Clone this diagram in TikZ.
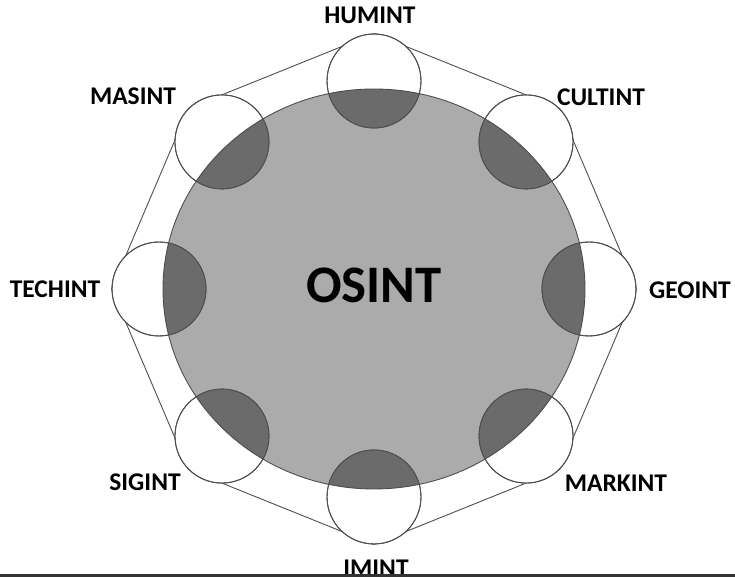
\documentclass[tikz,border=0pt]{standalone}
\usepackage{fontspec}
\setmainfont{Carlito}
\usepackage{xcolor}
\usepackage{tikz}
\usetikzlibrary{calc}
\definecolor{osintgray}{gray}{0.67}
\definecolor{lensgray}{gray}{0.42}
\definecolor{edgegray}{gray}{0.3}
\pgfdeclarelayer{back}
\pgfsetlayers{back,main}
\tikzset{
  spot/.style = {circle, draw=edgegray, fill=white, line width=0.5pt,
    inner sep=0pt, minimum size=1.88cm},% petit cercle
  belt/.style = {draw=edgegray, line width=0.5pt},% octogone
  edge/.style = {draw=edgegray, line width=0.5pt},
  lab/.style = {inner sep=0pt, font=\fontsize{14.5}{16}\selectfont\bfseries},
  bigtext/.style = {inner sep=0pt, font=\fontsize{30}{32}\selectfont\bfseries}
}

\begin{document}
\begin{tikzpicture}[x=0.02cm, y=0.02cm]
\useasboundingbox (0,0) rectangle (735,577);
\coordinate (c) at (374,288);
\foreach \n/\a in {hum/90, cul/45, geo/0, mar/-45, imi/-90, sig/-135, tec/180, mas/135}
  \node [spot] (\n) at ($(c)+(\a:215 and 208)$) {};
\begin{pgfonlayer}{back}
\draw [belt] (hum.90) -- (cul.45) -- (geo.0) -- (mar.-45) -- (imi.-90)
  -- (sig.-135) -- (tec.180) -- (mas.135) -- cycle;
\fill [osintgray] (c) ellipse [x radius=211, y radius=200];
\end{pgfonlayer}
\begin{scope}
\clip (c) ellipse [x radius=211, y radius=200];
\foreach \n in {hum, cul, geo, mar, imi, sig, tec, mas}
  \fill [lensgray] (\n) circle (47);
\end{scope}
\draw [edge] (c) ellipse [x radius=211, y radius=200];
\foreach \n in {hum, cul, geo, mar, imi, sig, tec, mas}
  \draw [edge] (\n) circle (47);
\node [bigtext] (osint) at (374,292) {OSINT};
\foreach \n/\x/\y/\t in {hum/370/562/HUMINT, cul/601/480/CULTINT,
    geo/690/287/GEOINT, mar/616/94/MARKINT, imi/376/9/IMINT,
    sig/145/95/SIGINT, tec/55/288/TECHINT, mas/133/481/MASINT}
  \node [lab] (l\n) at (\x,\y) {\t};
\fill [black!80] (0,0) rectangle (735,3);
\end{tikzpicture}
\end{document}
